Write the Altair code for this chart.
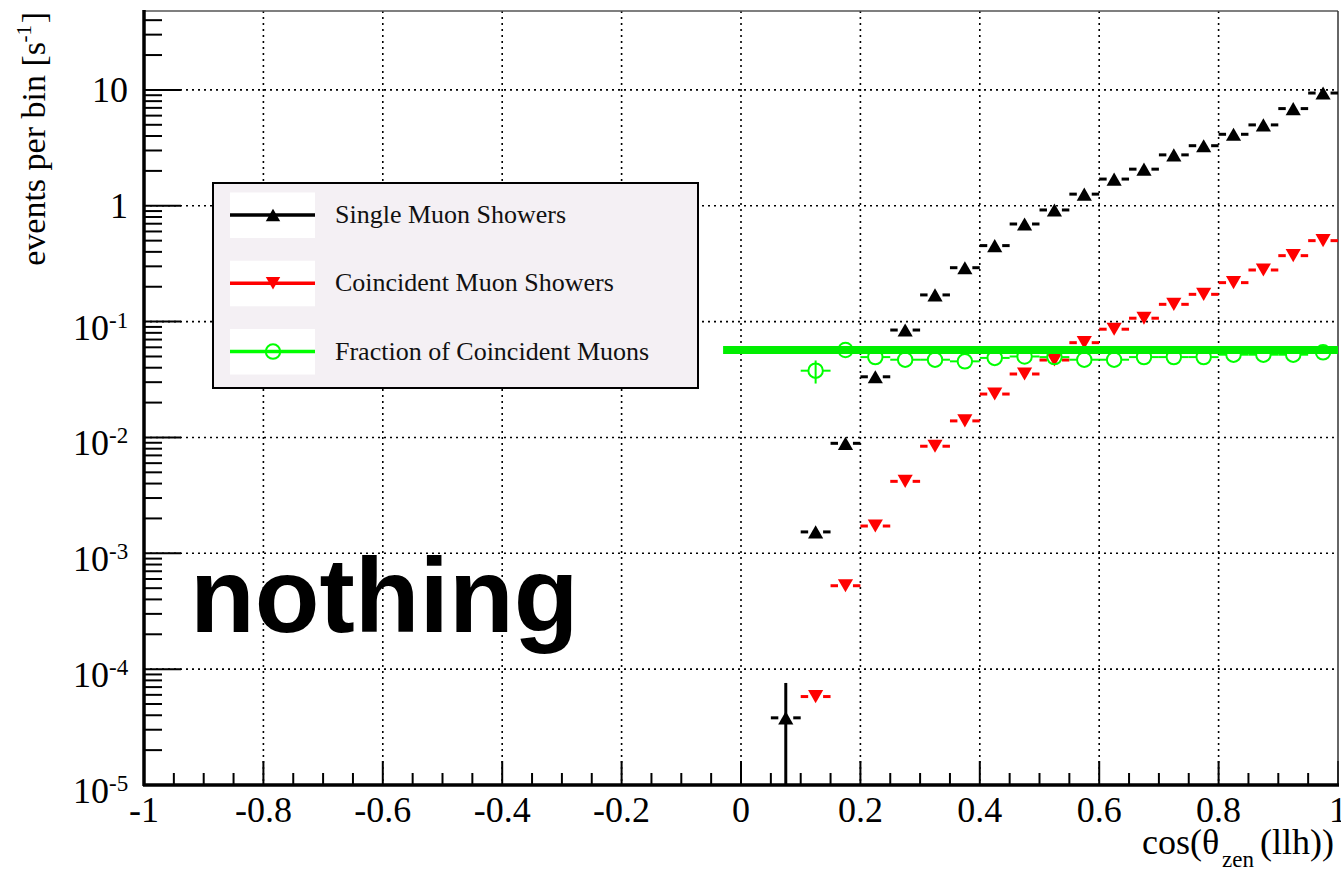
import altair as alt
import pandas as pd

# ---- data: rates per cos(zenith) bin --------------------------------------
bin_centers = [0.075, 0.125, 0.175, 0.225, 0.275, 0.325, 0.375, 0.425, 0.475,
               0.525, 0.575, 0.625, 0.675, 0.725, 0.775, 0.825, 0.875, 0.925, 0.975]
bin_half_width = 0.025
marker_gap = 0.0125  # error bars stop at the marker edge

single_rate = [3.8e-5, 1.53e-3, 8.9e-3, 0.0334, 0.0846, 0.170, 0.292, 0.453, 0.696,
               0.92, 1.26, 1.70, 2.07, 2.75, 3.30, 4.14, 4.99, 6.9, 9.4]
coinc_rate = [5.8e-5, 5.25e-4, 1.72e-3, 4.18e-3, 8.4e-3, 0.0139, 0.0237, 0.0353,
              0.0466, 0.0658, 0.086, 0.107, 0.141, 0.172, 0.217, 0.279, 0.371, 0.50]
coinc_fraction = [0.0377, 0.0569, 0.0494, 0.0469, 0.0469, 0.0454, 0.0486, 0.050,
                  0.0494, 0.0469, 0.0469, 0.0494, 0.0494, 0.0494, 0.0518, 0.0518,
                  0.0518, 0.0543]
coinc_centers = bin_centers[1:]

# (series, bin centre, symmetric error, value) for error bars that stick out of markers
vertical_errors = [("single", 0.075, 3.8e-5, single_rate[0]),
                   ("fraction", 0.125, 0.0085, coinc_fraction[0])]

# constant fit to the coincident fraction
fit_value = 0.057
fit_range = [-0.03, 1.0]

legend_labels = ["Single Muon Showers", "Coincident Muon Showers",
                 "Fraction of Coincident Muons"]

# ---- axes ------------------------------------------------------------------
x_major = [-1.0, -0.8, -0.6, -0.4, -0.2, 0.0, 0.2, 0.4, 0.6, 0.8, 1.0]
x_major_labels = ["-1", "-0.8", "-0.6", "-0.4", "-0.2", "0", "0.2", "0.4", "0.6", "0.8", "1"]
y_decades = [1e-5, 1e-4, 1e-3, 1e-2, 1e-1, 1.0, 10.0]
y_exp_labels = ["-5", "-4", "-3", "-2", "-1"]
y_plain_labels = ["1", "10"]
Y_MIN, Y_MAX = 1e-5, 48.0

W, H = 1194, 774
SERIF = "Liberation Serif"

xs = alt.Scale(domain=[-1, 1], nice=False, zero=False)
ys = alt.Scale(type="log", domain=[Y_MIN, Y_MAX], nice=False)


def X(field):
    return alt.X(field, type="quantitative", scale=xs, axis=None)


def Y(field):
    return alt.Y(field, type="quantitative", scale=ys, axis=None)


one = pd.DataFrame({"k": [0]})

x_minor = [round(-1 + 0.05 * i, 3) for i in range(41)]
x_minor = [v for v in x_minor if abs(round(v / 0.2) * 0.2 - v) > 1e-6]
y_minor = []
for d in y_decades:
    for m in range(2, 10):
        if d * m < Y_MAX:
            y_minor.append(d * m)

layers = []

# dotted grid
layers.append(alt.Chart(pd.DataFrame({"v": x_major[1:-1]})).mark_rule(
    color="black", strokeWidth=1.6, strokeDash=[2, 4]).encode(
    x=X("v"), y=alt.value(0), y2=alt.value(H)))
layers.append(alt.Chart(pd.DataFrame({"v": y_decades[1:]})).mark_rule(
    color="black", strokeWidth=1.6, strokeDash=[2, 4]).encode(
    y=Y("v"), x=alt.value(0), x2=alt.value(W)))

# inward ticks
layers.append(alt.Chart(pd.DataFrame({"v": x_major})).mark_rule(
    color="black", strokeWidth=2).encode(x=X("v"), y=alt.value(H), y2=alt.value(H - 24)))
layers.append(alt.Chart(pd.DataFrame({"v": x_minor})).mark_rule(
    color="black", strokeWidth=2).encode(x=X("v"), y=alt.value(H), y2=alt.value(H - 12)))
layers.append(alt.Chart(pd.DataFrame({"v": y_decades})).mark_rule(
    color="black", strokeWidth=2).encode(y=Y("v"), x=alt.value(0), x2=alt.value(37)))
layers.append(alt.Chart(pd.DataFrame({"v": y_minor})).mark_rule(
    color="black", strokeWidth=2).encode(y=Y("v"), x=alt.value(0), x2=alt.value(18)))

# frame
layers.append(alt.Chart(one).mark_rule(color="#555555", strokeWidth=1.5).encode(
    x=alt.value(0), x2=alt.value(W), y=alt.value(0)))
layers.append(alt.Chart(one).mark_rule(color="#333333", strokeWidth=1.5).encode(
    x=alt.value(W), y=alt.value(0), y2=alt.value(H)))
layers.append(alt.Chart(one).mark_rule(color="black", strokeWidth=3.5).encode(
    x=alt.value(0), y=alt.value(-1), y2=alt.value(H + 1)))
layers.append(alt.Chart(one).mark_rule(color="black", strokeWidth=3.5).encode(
    x=alt.value(-1), x2=alt.value(W + 1), y=alt.value(H)))


def hbars(centers, values):
    rows = []
    for c, v in zip(centers, values):
        rows.append({"x": c - bin_half_width, "x2": c - marker_gap, "y": v})
        rows.append({"x": c + marker_gap, "x2": c + bin_half_width, "y": v})
    return pd.DataFrame(rows)


verr = pd.DataFrame([{"series": s, "x": c, "lo": max(v - e, Y_MIN), "hi": v + e}
                     for s, c, e, v in vertical_errors])

# single muon showers
layers.append(alt.Chart(hbars(bin_centers, single_rate)).mark_rule(
    color="black", strokeWidth=3).encode(x=X("x"), x2="x2", y=Y("y")))
layers.append(alt.Chart(verr[verr.series == "single"]).mark_rule(
    color="black", strokeWidth=3).encode(x=X("x"), y=Y("lo"), y2="hi"))
layers.append(alt.Chart(pd.DataFrame({"x": bin_centers, "y": single_rate})).mark_point(
    shape="triangle-up", filled=True, size=230, color="black", opacity=1).encode(
    x=X("x"), y=Y("y")))

# coincident muon showers
layers.append(alt.Chart(hbars(coinc_centers, coinc_rate)).mark_rule(
    color="#ff0000", strokeWidth=3).encode(x=X("x"), x2="x2", y=Y("y")))
layers.append(alt.Chart(pd.DataFrame({"x": coinc_centers, "y": coinc_rate})).mark_point(
    shape="triangle-down", filled=True, size=230, color="#ff0000", opacity=1).encode(
    x=X("x"), y=Y("y")))

# coincident fraction
layers.append(alt.Chart(hbars(coinc_centers, coinc_fraction)).mark_rule(
    color="#00ff00", strokeWidth=2).encode(x=X("x"), x2="x2", y=Y("y")))
layers.append(alt.Chart(verr[verr.series == "fraction"]).mark_rule(
    color="#00ff00", strokeWidth=2).encode(x=X("x"), y=Y("lo"), y2="hi"))
layers.append(alt.Chart(pd.DataFrame({"x": coinc_centers, "y": coinc_fraction})).mark_point(
    shape="circle", filled=False, size=210, color="#00ff00", strokeWidth=2, opacity=1).encode(
    x=X("x"), y=Y("y")))

# fit line
layers.append(alt.Chart(pd.DataFrame({"x": [fit_range[0]], "x2": [fit_range[1]],
                                      "y": [fit_value]})).mark_rule(
    color="#00ee00", strokeWidth=8).encode(x=X("x"), x2="x2", y=Y("y")))

# legend box
LX0, LX1, LY0, LY1 = 69, 554, 172, 377
layers.append(alt.Chart(one).mark_rect(fill="#f4f0f4", stroke="black", strokeWidth=2).encode(
    x=alt.value(LX0), x2=alt.value(LX1), y=alt.value(LY0), y2=alt.value(LY1)))
entry_styles = [("black", "triangle-up", True),
                ("#ff0000", "triangle-down", True),
                ("#00ff00", "circle", False)]
for i, (label, (col, shape, filled)) in enumerate(zip(legend_labels, entry_styles)):
    cy = 204 + 68.3 * i
    layers.append(alt.Chart(one).mark_rect(fill="white").encode(
        x=alt.value(86), x2=alt.value(171), y=alt.value(cy - 22.5), y2=alt.value(cy + 23)))
    layers.append(alt.Chart(one).mark_rule(color=col, strokeWidth=3.5).encode(
        x=alt.value(86), x2=alt.value(171), y=alt.value(cy)))
    layers.append(alt.Chart(one).mark_point(
        shape=shape, filled=filled, size=210, color=col, strokeWidth=2, opacity=1).encode(
        x=alt.value(129), y=alt.value(cy)))
    layers.append(alt.Chart(pd.DataFrame({"t": [label]})).mark_text(
        font=SERIF, fontSize=26, align="left", baseline="middle", color="#111111").encode(
        x=alt.value(191), y=alt.value(cy), text="t:N"))

# x tick labels
layers.append(alt.Chart(pd.DataFrame({"v": x_major, "t": x_major_labels})).mark_text(
    font=SERIF, fontSize=36, align="center", baseline="alphabetic", color="black").encode(
    x=X("v"), y=alt.value(811), text="t:N"))

# y tick labels: plain and power-of-ten
layers.append(alt.Chart(pd.DataFrame({"v": y_decades[5:], "t": y_plain_labels})).mark_text(
    font=SERIF, fontSize=36, align="right", baseline="alphabetic", dy=12, color="black").encode(
    x=alt.value(-16), y=Y("v"), text="t:N"))
exp_df = pd.DataFrame({"v": y_decades[:5], "e": y_exp_labels, "b": ["10"] * 5})
layers.append(alt.Chart(exp_df).mark_text(
    font=SERIF, fontSize=36, align="right", baseline="alphabetic", dy=18, color="black").encode(
    x=alt.value(-35), y=Y("v"), text="b:N"))
layers.append(alt.Chart(exp_df).mark_text(
    font=SERIF, fontSize=23, align="left", baseline="alphabetic", dy=6, color="black").encode(
    x=alt.value(-35), y=Y("v"), text="e:N"))


# axis titles
def label(text, x, y, size, align="left", angle=0):
    return alt.Chart(pd.DataFrame({"t": [text]})).mark_text(
        font=SERIF, fontSize=size, align=align, baseline="alphabetic", angle=angle,
        color="black").encode(x=alt.value(x), y=alt.value(y), text="t:N")


layers.append(label("cos(\u03b8", 998, 843, 36))
layers.append(label("zen", 1078, 856, 23))
layers.append(label("(llh))", 1116, 843, 36))

layers.append(label("events per bin [s", -99, 31, 34, align="right", angle=270))
layers.append(label("-1", -113, 14, 21, align="right", angle=270))
layers.append(label("]", -99, 1, 34, align="right", angle=270))

# annotation
layers.append(alt.Chart(pd.DataFrame({"t": ["nothing"]})).mark_text(
    font="Liberation Sans", fontWeight="bold", fontSize=106, align="left",
    baseline="alphabetic", color="black").encode(
    x=alt.value(46), y=alt.value(621), text="t:N"))

chart = alt.layer(*layers).properties(
    width=W, height=H,
    padding={"left": 144, "top": 11, "right": 3, "bottom": 84},
    autosize=alt.AutoSizeParams(type="none"),
    background="white",
).configure_view(stroke="transparent")

chart.save("out.html", embed_options={"renderer": "svg", "actions": False})
